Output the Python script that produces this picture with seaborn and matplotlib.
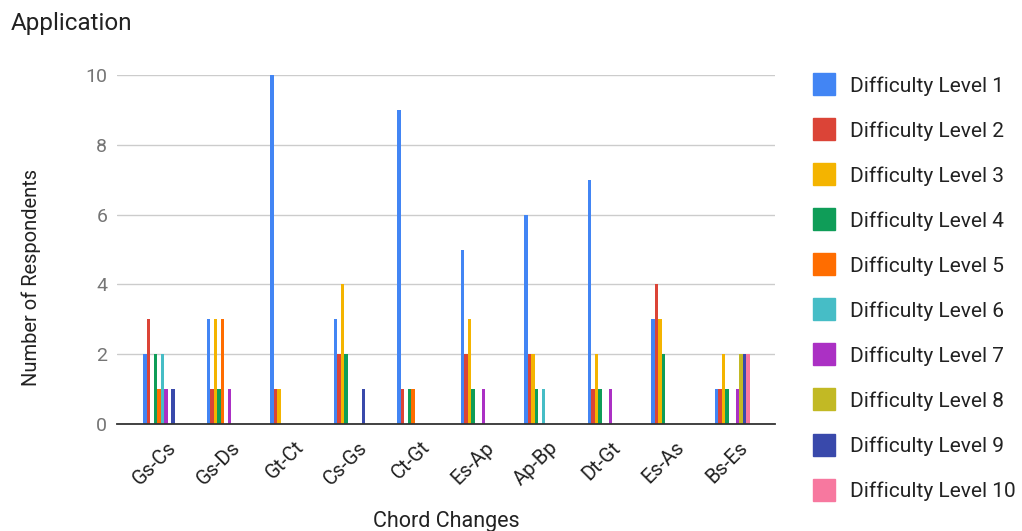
import matplotlib
matplotlib.use("Agg")
import matplotlib.pyplot as plt
import matplotlib.transforms as mtransforms
from matplotlib.lines import Line2D
import seaborn as sns
import pandas as pd

# Chord changes on the x axis
chords = ["Gs-Cs", "Gs-Ds", "Gt-Ct", "Cs-Gs", "Ct-Gt",
          "Es-Ap", "Ap-Bp", "Dt-Gt", "Es-As", "Bs-Es"]

# Respondents per difficulty level, one list per level (ordered like `chords`)
level_1 = [2, 3, 10, 3, 9, 5, 6, 7, 3, 1]
level_2 = [3, 1, 1, 2, 1, 2, 2, 1, 4, 1]
level_3 = [0, 3, 1, 4, 0, 3, 2, 2, 3, 2]
level_4 = [2, 1, 0, 2, 1, 1, 1, 1, 2, 1]
level_5 = [1, 3, 0, 0, 1, 0, 0, 0, 0, 0]
level_6 = [2, 0, 0, 0, 0, 0, 1, 0, 0, 0]
level_7 = [1, 1, 0, 0, 0, 1, 0, 1, 0, 1]
level_8 = [0, 0, 0, 0, 0, 0, 0, 0, 0, 2]
level_9 = [1, 0, 0, 1, 0, 0, 0, 0, 0, 2]
level_10 = [0, 0, 0, 0, 0, 0, 0, 0, 0, 2]

levels = [level_1, level_2, level_3, level_4, level_5,
          level_6, level_7, level_8, level_9, level_10]
level_names = [f"Difficulty Level {i}" for i in range(1, 11)]

colors = ["#4285F4", "#DB4437", "#F4B400", "#0F9D58", "#FF6D00",
          "#46BDC6", "#AB30C4", "#C2B924", "#3949AB", "#F7789F"]

rows = []
for name, vals in zip(level_names, levels):
    for chord, v in zip(chords, vals):
        rows.append({"Chord Changes": chord, "Level": name, "Respondents": v})
df = pd.DataFrame(rows)

sns.set_theme(style="white")
plt.rcParams["font.family"] = ["Roboto", "DejaVu Sans"]

W, H = 1022, 531
fig = plt.figure(figsize=(W / 100, H / 100), dpi=100)
ax = fig.add_axes([117 / W, 1 - 424 / H, (775 - 117) / W, (424 - 75) / H])

sns.barplot(data=df, x="Chord Changes", y="Respondents", hue="Level",
            hue_order=level_names, order=chords, palette=colors,
            width=0.55, dodge=True, gap=0, errorbar=None, saturation=1,
            linewidth=0, legend=False, ax=ax)

# category band of ~63.5 px with a little padding on both sides of the plot area
band = 63.5
ax.set_xlim(-0.5 - 12 / band, len(chords) - 0.5 + 11 / band)
ax.set_ylim(0, 10)
ax.set_yticks([0, 2, 4, 6, 8, 10])
ax.yaxis.grid(True, color="#CCCCCC", linewidth=1)
ax.set_axisbelow(True)
for side in ["top", "right", "left"]:
    ax.spines[side].set_visible(False)
ax.spines["bottom"].set_color("#333333")
ax.spines["bottom"].set_linewidth(1.3)
ax.spines["bottom"].set_zorder(5)

ax.tick_params(axis="y", length=0, pad=7, labelsize=14, labelcolor="#757575")
ax.tick_params(axis="x", length=0, pad=10, labelsize=14.5, labelcolor="#222222")
plt.setp(ax.get_xticklabels(), rotation=45, ha="right", rotation_mode="anchor")
shift = mtransforms.ScaledTranslation(6 / 100, 0, fig.dpi_scale_trans)
for lbl in ax.get_xticklabels():
    lbl.set_transform(lbl.get_transform() + shift)

ax.set_xlabel("Chord Changes", fontsize=15.5, color="#222222")
ax.xaxis.set_label_coords(0.5, (424 - 521) / 349)
ax.xaxis.label.set_va("center")
ax.set_ylabel("Number of Respondents", fontsize=14.5, color="#222222")
ax.yaxis.set_label_coords((31 - 117) / 658, (424 - 277) / 349)
ax.yaxis.label.set_va("center")

fig.text(11 / W, 1 - 30 / H, "Application", fontsize=17.5, color="#222222",
         ha="left", va="baseline")

handles = [Line2D([], [], linestyle="none", marker="s", markersize=15.8,
                  markerfacecolor=c, markeredgecolor=c) for c in colors]
fig.legend(handles, level_names, loc="upper left",
           bbox_to_anchor=(811.5 / W, 1 - 76 / H), frameon=False,
           fontsize=15, labelspacing=1.225, handlelength=1.2,
           handletextpad=0.65, borderpad=0, borderaxespad=0,
           labelcolor="#222222")

fig.savefig("out.png", dpi=100)
